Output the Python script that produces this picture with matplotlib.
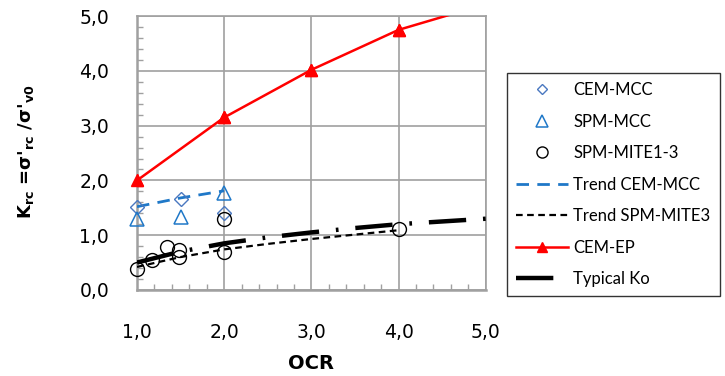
import matplotlib.pyplot as plt
import numpy as np
from matplotlib.ticker import MultipleLocator, FuncFormatter

# data
ocr_cem_mcc = [1.0, 1.5, 2.0]
k_cem_mcc = [1.52, 1.66, 1.41]

ocr_spm_mcc = [1.0, 1.5, 2.0]
k_spm_mcc = [1.30, 1.33, 1.77]

ocr_spm_mite = [1.0, 1.17, 1.34, 1.48, 1.48, 2.0, 2.0, 4.0]
k_spm_mite = [0.38, 0.55, 0.79, 0.73, 0.61, 1.30, 0.70, 1.11]

ocr_trend_cem = [1.0, 1.5, 2.0]
k_trend_cem = [1.52, 1.68, 1.81]

ocr_trend_spm = [1.0, 1.5, 2.0, 2.5, 3.0, 3.5, 4.0]
k_trend_spm = [0.42, 0.60, 0.74, 0.84, 0.93, 1.01, 1.09]

ocr_cem_ep = [1.0, 2.0, 3.0, 4.0, 5.0]
k_cem_ep = [2.00, 3.15, 4.02, 4.75, 5.22]

ocr_ko = [1.0, 1.5, 2.0, 2.5, 3.0, 3.5, 4.0, 4.5, 5.0]
k_ko = [0.50, 0.70, 0.85, 0.96, 1.05, 1.13, 1.20, 1.25, 1.30]

fig = plt.figure(figsize=(7.25, 3.76), dpi=100)
ax = fig.add_axes([0.189, 0.229, 0.481, 0.728])

grid_c = '#a0a0a0'

ax.plot(ocr_cem_mcc, k_cem_mcc, linestyle='none', marker='D', markersize=7,
        markerfacecolor='none', markeredgecolor='#4a78c0', markeredgewidth=1.0,
        label='CEM-MCC', zorder=4, clip_on=False)
ax.plot(ocr_spm_mcc, k_spm_mcc, linestyle='none', marker='^', markersize=10,
        markerfacecolor='none', markeredgecolor='#1f78c8', markeredgewidth=1.1,
        label='SPM-MCC', zorder=4, clip_on=False)
ax.plot(ocr_spm_mite, k_spm_mite, linestyle='none', marker='o', markersize=10,
        markerfacecolor='none', markeredgecolor='black', markeredgewidth=1.0,
        label='SPM-MITE1-3', zorder=4, clip_on=False)
ax.plot(ocr_trend_cem, k_trend_cem, color='#1f78c8', linewidth=2.0,
        dashes=(4.5, 3), label='Trend CEM-MCC', zorder=3)
ax.plot(ocr_trend_spm, k_trend_spm, color='black', linewidth=1.6,
        dashes=(3, 2), label='Trend SPM-MITE3', zorder=3)
# line is clipped at the top, markers stay visible on the axis edge
ax.plot(ocr_cem_ep, k_cem_ep, color='red', linewidth=1.8, marker='^',
        markersize=9, markevery=[0, 1, 2, 3], label='CEM-EP', zorder=5)
ax.plot(ocr_cem_ep[:4], k_cem_ep[:4], linestyle='none', color='red',
        marker='^', markersize=9, zorder=5, clip_on=False)
ax.plot(ocr_ko, k_ko, color='black', linewidth=3.2,
        dashes=(8.4, 3.8, 0.6, 3.8), label='Typical Ko', zorder=3)

ax.set_xlim(1, 5)
ax.set_ylim(0, 5)
ax.xaxis.set_major_locator(MultipleLocator(1))
ax.yaxis.set_major_locator(MultipleLocator(1))
ax.xaxis.set_minor_locator(MultipleLocator(0.2))
ax.yaxis.set_minor_locator(MultipleLocator(0.2))
comma = FuncFormatter(lambda v, p: ('%.1f' % v).replace('.', ','))
ax.xaxis.set_major_formatter(comma)
ax.yaxis.set_major_formatter(comma)

ax.grid(True, which='major', color=grid_c, linewidth=1.2)
ax.set_axisbelow(True)
for s in ax.spines.values():
    s.set_color(grid_c)
    s.set_linewidth(1.2)
ax.spines['left'].set_linewidth(1.8)
ax.spines['bottom'].set_linewidth(1.8)

ax.tick_params(which='major', length=0, labelsize=13.5, colors='black')
ax.tick_params(axis='x', which='major', pad=24)
ax.tick_params(axis='y', which='major', pad=20)
ax.tick_params(which='minor', direction='in', length=4, width=1.0, color=grid_c)
ax.tick_params(which='minor', top=False, right=False)

ax.set_xlabel('OCR', fontsize=14, fontweight='bold')
ax.xaxis.set_label_coords(0.5, -0.235)
ax.set_ylabel(r"K$_{\mathbf{rc}}$ =σ'$_{\mathbf{rc}}$ /σ'$_{\mathbf{v0}}$",
              fontsize=13, fontweight='bold')
ax.yaxis.set_label_coords(-0.29, 0.505)

leg = ax.legend(loc='upper left', bbox_to_anchor=(0.699, 0.806),
                bbox_transform=fig.transFigure, frameon=True, fancybox=False,
                edgecolor='black', handlelength=3.1, markerscale=0.8,
                handletextpad=0.35, labelspacing=0.93, borderpad=0.55,
                borderaxespad=0, prop={'family': 'Lato', 'size': 12})
leg.get_frame().set_linewidth(1.0)

fig.savefig('out.png', dpi=100)
